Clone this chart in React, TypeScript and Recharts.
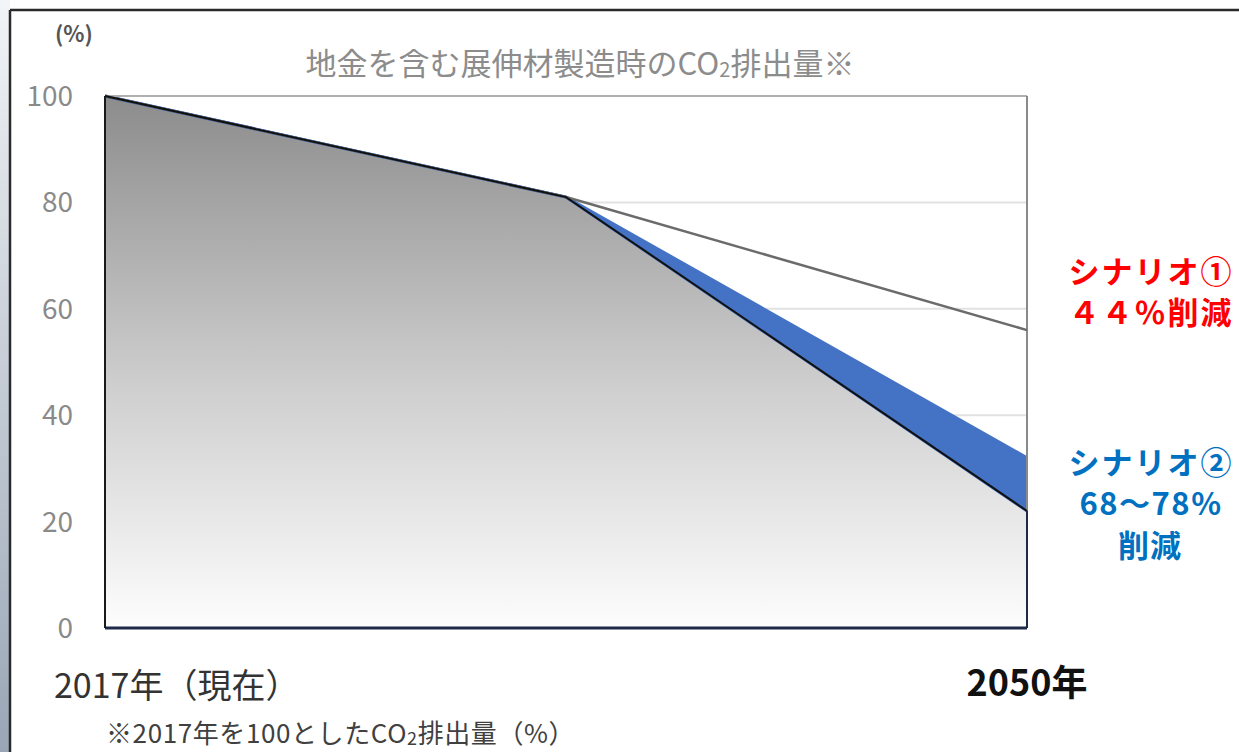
import React from 'react';
import {
  ComposedChart,
  Area,
  Line,
  XAxis,
  YAxis,
  CartesianGrid,
  ReferenceLine,
} from 'recharts';

// ---- data ----
const categories = ['2017年（現在）', '2030年', '2050年'];
const xIndex = [0, 1, 2];
const scenario1 = [100, 81, 56]; // シナリオ① 44%削減
const scenario2High = [100, 81, 32]; // シナリオ② 68%削減
const scenario2Low = [100, 81, 22]; // シナリオ② 78%削減
const yTicks = [0, 20, 40, 60, 80, 100];
const xTicks = [0, 2];

const data = xIndex.map((x, i) => ({
  x,
  label: categories[i],
  s1: scenario1[i],
  s2High: scenario2High[i],
  s2Low: scenario2Low[i],
  band: [scenario2Low[i], scenario2High[i]],
}));

const FONT = "'Noto Sans CJK JP', 'Noto Sans', sans-serif";

const XTick = (props: any) => {
  const { x, y, payload } = props;
  const i = payload.value as number;
  if (i === 0) {
    return (
      <text x={x - 51} y={y + 70} fontSize={34} fill="#333333" fontFamily={FONT} textAnchor="start">
        {categories[0]}
      </text>
    );
  }
  if (i === 2) {
    return (
      <text x={x} y={y + 68} fontSize={36} fontWeight={700} fill="#111111" fontFamily={FONT} textAnchor="middle">
        {categories[2]}
      </text>
    );
  }
  return null;
};

export default function App() {
  return (
    <div style={{ position: 'absolute', left: 0, top: 0, width: 1239, height: 752, background: '#ffffff', overflow: 'hidden' }}>
      <ComposedChart
        width={1239}
        height={752}
        data={data}
        margin={{ top: 96, right: 212, bottom: 64, left: 0 }}
      >
        <defs>
          <linearGradient id="grayFill" x1="0" y1="0" x2="0" y2="1">
            <stop offset="0%" stopColor="#8c8c8c" />
            <stop offset="55%" stopColor="#cfcfcf" />
            <stop offset="100%" stopColor="#fdfdfd" />
          </linearGradient>
        </defs>
        <CartesianGrid horizontal vertical={false} stroke="#e2e2e2" strokeWidth={2} />
        <XAxis
          dataKey="x"
          type="number"
          domain={[0, 2]}
          ticks={xTicks}
          height={60}
          tickSize={0}
          tickMargin={0}
          tickLine={false}
          axisLine={{ stroke: '#1e2a48', strokeWidth: 3 }}
          tick={<XTick />}
          interval={0}
        />
        <YAxis
          domain={[0, 100]}
          ticks={yTicks}
          width={105}
          tickSize={0}
          tickMargin={32}
          tickLine={false}
          axisLine={{ stroke: '#1a1a1a', strokeWidth: 2 }}
          tick={{ fill: '#8a8a8a', fontSize: 28, fontFamily: FONT }}
          interval={0}
        />
        <ReferenceLine y={100} stroke="#b0b0b0" strokeWidth={2} />
        <ReferenceLine x={2} stroke="#8a8a8a" strokeWidth={2} />
        <Line
          dataKey="s1"
          stroke="#6b6b6b"
          strokeWidth={2.5}
          dot={false}
          activeDot={false}
          isAnimationActive={false}
        />
        <Area
          dataKey="s2Low"
          stroke="none"
          fill="url(#grayFill)"
          fillOpacity={1}
          isAnimationActive={false}
          dot={false}
          activeDot={false}
        />
        <Area
          dataKey="band"
          stroke="#4472c4"
          strokeWidth={3}
          fill="#4472c4"
          fillOpacity={1}
          isAnimationActive={false}
          dot={false}
          activeDot={false}
        />
        <Line
          dataKey="s2Low"
          stroke="#111111"
          strokeWidth={2}
          dot={false}
          activeDot={false}
          isAnimationActive={false}
        />
        <ReferenceLine
          segment={[
            { x: 2, y: 0 },
            { x: 2, y: scenario2Low[2] },
          ]}
          stroke="#1e2a48"
          strokeWidth={2}
        />
      </ComposedChart>

      <svg
        width={1239}
        height={752}
        style={{ position: 'absolute', left: 0, top: 0, pointerEvents: 'none' }}
      >
        <defs>
          <linearGradient id="edgeGrad" x1="0" y1="0" x2="0" y2="1">
            <stop offset="0%" stopColor="#f2f4f7" />
            <stop offset="35%" stopColor="#d2d8df" />
            <stop offset="100%" stopColor="#9aa6b6" />
          </linearGradient>
        </defs>
        <rect x={0} y={0} width={10} height={752} fill="url(#edgeGrad)" />
        <line x1={10} y1={10} x2={1239} y2={10} stroke="#2a2a2a" strokeWidth={2.5} />
        <line x1={10} y1={10} x2={10} y2={752} stroke="#2a2a2a" strokeWidth={2.5} />

        <text x={55} y={42} fontSize={22} fontWeight={700} fill="#555555" fontFamily={FONT}>
          (%)
        </text>

        <text x={580} y={75} fontSize={31} fill="#8c8c8c" fontFamily={FONT} textAnchor="middle">
          地金を含む展伸材製造時のCO
          <tspan fontSize={20} dy={2}>2</tspan>
          <tspan dy={-2}>排出量※</tspan>
        </text>

        <text x={1151} y={283} fontSize={31} letterSpacing={2} fontWeight={700} fill="#ff0000" fontFamily={FONT} textAnchor="middle">
          シナリオ①
        </text>
        <text x={1151} y={324} fontSize={31} letterSpacing={2} fontWeight={700} fill="#ff0000" fontFamily={FONT} textAnchor="middle">
          ４４％削減
        </text>

        <text x={1151} y={474} fontSize={31} letterSpacing={2} fontWeight={700} fill="#0070c0" fontFamily={FONT} textAnchor="middle">
          シナリオ②
        </text>
        <text x={1151} y={515} fontSize={31} letterSpacing={1.5} fontWeight={700} fill="#0070c0" fontFamily={FONT} textAnchor="middle">
          68～78%
        </text>
        <text x={1150} y={557} fontSize={31} letterSpacing={1} fontWeight={700} fill="#0070c0" fontFamily={FONT} textAnchor="middle">
          削減
        </text>

        <text x={106} y={743} fontSize={26} letterSpacing={0.6} fill="#404040" fontFamily={FONT}>
          ※2017年を100としたCO
          <tspan fontSize={18} dy={2}>2</tspan>
          <tspan dy={-2}>排出量（%）</tspan>
        </text>
      </svg>
    </div>
  );
}
